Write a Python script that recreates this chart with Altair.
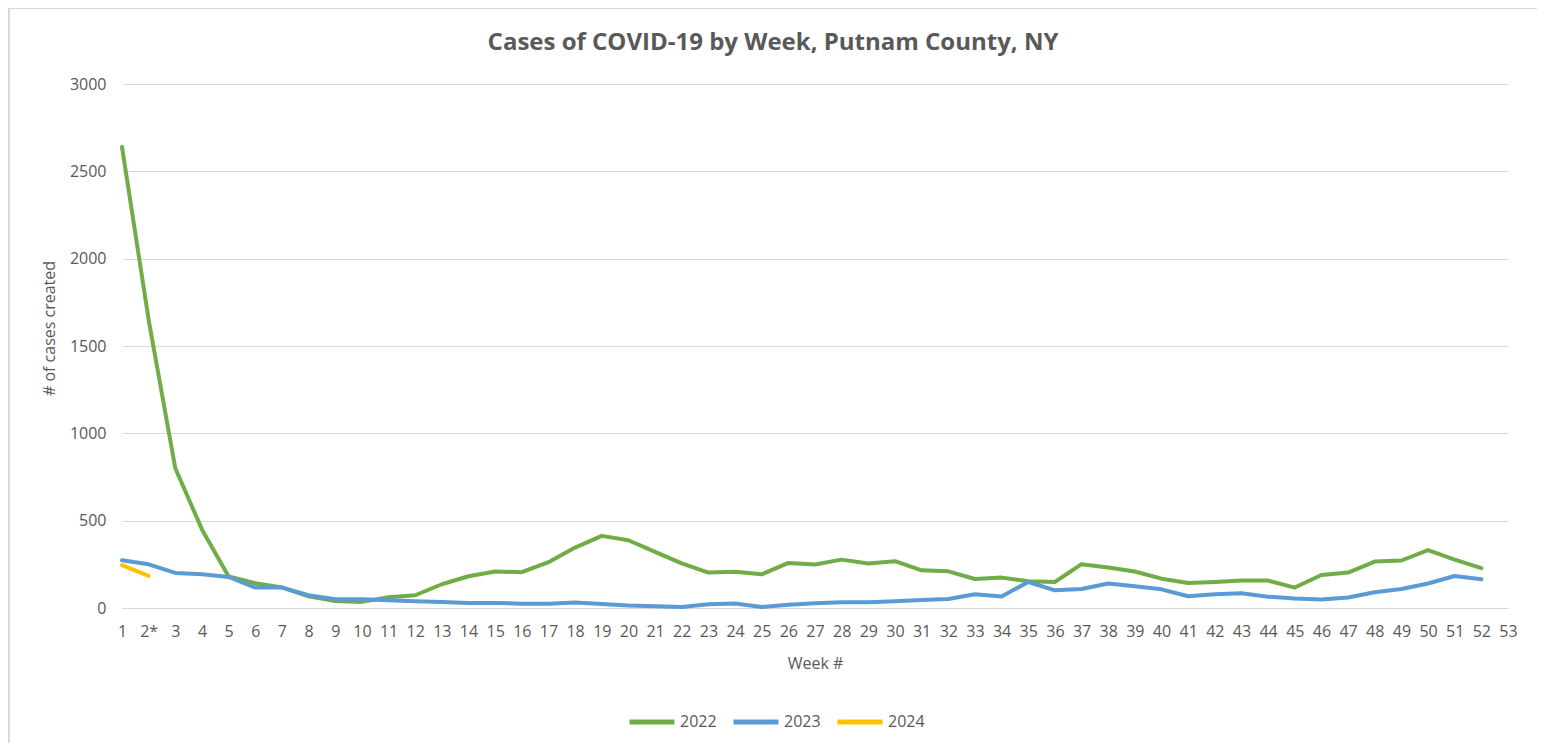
import altair as alt
import pandas as pd

weeks = list(range(1, 53))
cases_2022 = [2640, 1650, 800, 450, 180, 142, 118, 67, 40, 35, 61, 73, 136, 182, 209, 205,
              262, 346, 413, 388, 321, 255, 203, 208, 193, 258, 249, 277, 255, 268, 216, 210,
              166, 174, 153, 149, 251, 232, 209, 168, 143, 149, 157, 157, 117, 189, 203, 266,
              272, 331, 277, 228]
cases_2023 = [273, 250, 201, 193, 178, 117, 117, 73, 50, 50, 44, 38, 35, 29, 29, 25,
              25, 31, 23, 14, 10, 6, 21, 26, 6, 19, 27, 33, 33, 38, 46, 52,
              79, 66, 149, 101, 109, 140, 124, 107, 67, 79, 84, 65, 54, 48, 60, 90,
              109, 140, 183, 165]
weeks_2024 = [1, 2]
cases_2024 = [245, 184]
series = ["2022", "2023", "2024"]
colors = ["#70AD47", "#5B9BD5", "#FFC000"]
tick_weeks = list(range(1, 54))
y_ticks = [0, 500, 1000, 1500, 2000, 2500, 3000]

rows = []
for w, v in zip(weeks, cases_2022):
    rows.append({"week": w, "cases": v, "year": "2022"})
for w, v in zip(weeks, cases_2023):
    rows.append({"week": w, "cases": v, "year": "2023"})
for w, v in zip(weeks_2024, cases_2024):
    rows.append({"week": w, "cases": v, "year": "2024"})
df = pd.DataFrame(rows)

FONT = "Open Sans"
GREY = "#595959"

lines = alt.Chart(df).mark_line(strokeWidth=4, strokeCap="round", strokeJoin="round").encode(
    x=alt.X("week:Q",
            scale=alt.Scale(domain=[1, 53], nice=False, zero=False),
            axis=alt.Axis(values=tick_weeks, title="Week #",
                          labelExpr="datum.value == 2 ? '2*' : datum.label",
                          grid=False, ticks=False, domain=True, domainColor="#d9d9d9",
                          labelPadding=15, titlePadding=16, labelFlush=False)),
    y=alt.Y("cases:Q",
            scale=alt.Scale(domain=[0, 3000], nice=False),
            axis=alt.Axis(values=y_ticks, format="d",
                          title="# of cases created", grid=True, gridColor="#d9d9d9",
                          ticks=False, domain=False, labelPadding=16, titlePadding=12,
                          titleY=244)),
    color=alt.Color("year:N",
                    scale=alt.Scale(domain=series, range=colors),
                    legend=alt.Legend(title=None, orient="none", direction="horizontal",
                                      legendX=505, legendY=613, symbolType="stroke",
                                      symbolSize=2025, symbolStrokeWidth=5,
                                      labelFontSize=16, labelColor=GREY, labelFont=FONT,
                                      columnPadding=6, labelOffset=3)),
    order="week:Q",
)

frame = alt.Chart(pd.DataFrame({"k": [0]})).mark_rect(
    fill=None, stroke="#d9d9d9", strokeWidth=2
).encode(
    x=alt.value(-113), x2=alt.value(1417), y=alt.value(-76), y2=alt.value(700)
)

chart = alt.layer(frame, lines).properties(
    width=1386,
    height=524,
    padding={"left": 114, "top": 76, "right": 29, "bottom": 135},
    autosize=alt.AutoSizeParams(type="none"),
    title=alt.TitleParams("Cases of COVID-19 by Week, Putnam County, NY",
                          font=FONT, fontSize=24, fontWeight="bold", color=GREY,
                          anchor="middle", dx=-42, offset=0, dy=48),
).configure_axis(
    labelFont=FONT, labelFontSize=16, labelColor=GREY,
    titleFont=FONT, titleFontSize=16, titleColor=GREY, titleFontWeight="normal",
).configure_view(stroke=None)

chart.save("out.html", embed_options={"renderer": "svg", "actions": False})
